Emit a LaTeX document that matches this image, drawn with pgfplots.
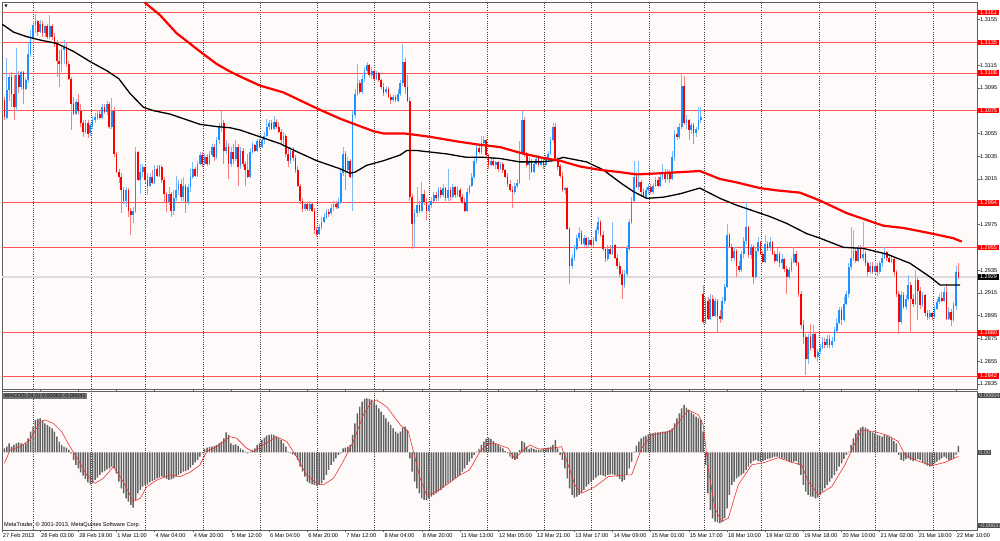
\documentclass[border=0pt]{standalone}
\usepackage{pgfplots}
\pgfplotsset{compat=1.18}
\usepackage{pgfplotstable}
\usepackage{fontspec}
\setmainfont{Liberation Sans}
\newfontfamily\dejavu{DejaVu Sans}
\definecolor{bull}{RGB}{30,144,255}
\definecolor{bullw}{RGB}{125,188,250}
\definecolor{bear}{RGB}{255,0,0}
\definecolor{bearw}{RGB}{250,125,125}
\definecolor{lvl}{RGB}{255,85,85}
\definecolor{bg}{RGB}{253,250,249}
\definecolor{frm}{RGB}{95,95,95}
\newcommand\tf{\fontsize{5.6}{6.4}\selectfont}

\pgfplotstableread{
o h l c
1.3084 1.3087 1.3067 1.3069
1.3069 1.3121 1.3068 1.3093
1.3093 1.3108 1.3084 1.3105
1.3105 1.3109 1.3078 1.3090
1.3090 1.3106 1.3067 1.3078
1.3078 1.3130 1.3075 1.3106
1.3106 1.3110 1.3091 1.3096
1.3096 1.3110 1.3093 1.3109
1.3109 1.3110 1.3081 1.3094
1.3094 1.3104 1.3093 1.3102
1.3102 1.3134 1.3099 1.3125
1.3125 1.3146 1.3122 1.3138
1.3138 1.3154 1.3134 1.3150
1.3150 1.3160 1.3143 1.3154
1.3154 1.3155 1.3141 1.3144
1.3144 1.3155 1.3143 1.3151
1.3151 1.3154 1.3140 1.3143
1.3143 1.3150 1.3140 1.3149
1.3149 1.3151 1.3138 1.3140
1.3140 1.3159 1.3138 1.3149
1.3149 1.3151 1.3137 1.3140
1.3140 1.3143 1.3131 1.3134
1.3134 1.3137 1.3105 1.3119
1.3119 1.3128 1.3096 1.3116
1.3116 1.3131 1.3109 1.3128
1.3128 1.3137 1.3116 1.3131
1.3131 1.3135 1.3113 1.3116
1.3116 1.3119 1.3102 1.3103
1.3103 1.3105 1.3058 1.3081
1.3081 1.3087 1.3071 1.3072
1.3072 1.3085 1.3071 1.3083
1.3083 1.3090 1.3072 1.3075
1.3075 1.3081 1.3061 1.3064
1.3064 1.3067 1.3052 1.3056
1.3056 1.3067 1.3055 1.3064
1.3064 1.3067 1.3051 1.3055
1.3055 1.3064 1.3053 1.3062
1.3062 1.3070 1.3059 1.3067
1.3067 1.3073 1.3064 1.3069
1.3069 1.3076 1.3067 1.3072
1.3072 1.3075 1.3068 1.3069
1.3069 1.3081 1.3068 1.3078
1.3078 1.3081 1.3072 1.3074
1.3074 1.3084 1.3071 1.3081
1.3081 1.3083 1.3059 1.3061
1.3061 1.3086 1.3059 1.3075
1.3075 1.3078 1.3034 1.3037
1.3037 1.3039 1.3020 1.3021
1.3021 1.3024 1.3012 1.3017
1.3017 1.3020 1.2985 1.3005
1.3005 1.3008 1.2993 1.2996
1.2996 1.3008 1.2990 1.3005
1.3005 1.3007 1.2982 1.2987
1.2987 1.2990 1.2966 1.2983
1.2983 1.2990 1.2976 1.2987
1.2987 1.3043 1.2985 1.3039
1.3039 1.3040 1.3013 1.3014
1.3014 1.3028 1.3002 1.3021
1.3021 1.3028 1.3017 1.3026
1.3026 1.3027 1.3012 1.3014
1.3014 1.3020 1.3001 1.3009
1.3009 1.3020 1.3008 1.3017
1.3017 1.3023 1.3011 1.3012
1.3012 1.3027 1.3011 1.3024
1.3024 1.3027 1.3017 1.3018
1.3018 1.3027 1.3017 1.3026
1.3026 1.3027 1.3012 1.3014
1.3014 1.3017 1.2995 1.3002
1.3002 1.3004 1.2986 1.2995
1.2995 1.3008 1.2992 1.3002
1.3002 1.3004 1.2982 1.2987
1.2987 1.3005 1.2983 1.2998
1.2998 1.3018 1.2996 1.3005
1.3005 1.3014 1.3001 1.3011
1.3011 1.3015 1.2996 1.2999
1.2999 1.3017 1.2996 1.3009
1.3009 1.3011 1.2985 1.2995
1.2995 1.3011 1.2992 1.3008
1.3008 1.3024 1.3004 1.3017
1.3017 1.3030 1.3015 1.3024
1.3024 1.3026 1.3017 1.3018
1.3018 1.3031 1.3017 1.3028
1.3028 1.3039 1.3027 1.3036
1.3036 1.3039 1.3026 1.3028
1.3028 1.3037 1.3027 1.3034
1.3034 1.3037 1.3026 1.3028
1.3028 1.3040 1.3027 1.3036
1.3036 1.3046 1.3034 1.3043
1.3043 1.3046 1.3031 1.3034
1.3034 1.3052 1.3033 1.3049
1.3049 1.3064 1.3046 1.3061
1.3061 1.3075 1.3056 1.3064
1.3064 1.3067 1.3028 1.3040
1.3040 1.3049 1.3037 1.3043
1.3043 1.3047 1.3015 1.3028
1.3028 1.3043 1.3026 1.3039
1.3039 1.3046 1.3028 1.3033
1.3033 1.3049 1.3031 1.3043
1.3043 1.3046 1.3009 1.3026
1.3026 1.3043 1.3024 1.3040
1.3040 1.3042 1.3026 1.3028
1.3028 1.3031 1.3009 1.3023
1.3023 1.3037 1.3016 1.3017
1.3017 1.3042 1.3016 1.3039
1.3039 1.3048 1.3037 1.3045
1.3045 1.3046 1.3039 1.3040
1.3040 1.3050 1.3039 1.3048
1.3048 1.3050 1.3042 1.3043
1.3043 1.3052 1.3042 1.3049
1.3049 1.3056 1.3046 1.3053
1.3053 1.3068 1.3052 1.3061
1.3061 1.3067 1.3058 1.3064
1.3064 1.3067 1.3058 1.3059
1.3059 1.3070 1.3058 1.3065
1.3065 1.3068 1.3059 1.3061
1.3061 1.3065 1.3055 1.3056
1.3056 1.3059 1.3046 1.3049
1.3049 1.3056 1.3046 1.3053
1.3053 1.3055 1.3034 1.3037
1.3037 1.3042 1.3026 1.3031
1.3031 1.3043 1.3028 1.3040
1.3040 1.3043 1.3031 1.3033
1.3033 1.3036 1.3020 1.3023
1.3023 1.3026 1.3008 1.3009
1.3009 1.3011 1.2993 1.2996
1.2996 1.2998 1.2986 1.2989
1.2989 1.2995 1.2987 1.2993
1.2993 1.2995 1.2987 1.2989
1.2989 1.2996 1.2987 1.2993
1.2993 1.2995 1.2986 1.2987
1.2987 1.2990 1.2967 1.2970
1.2970 1.2973 1.2964 1.2967
1.2967 1.2976 1.2966 1.2973
1.2973 1.2982 1.2970 1.2977
1.2977 1.2985 1.2976 1.2982
1.2982 1.2989 1.2980 1.2986
1.2986 1.2989 1.2982 1.2985
1.2985 1.2993 1.2983 1.2990
1.2990 1.2996 1.2987 1.2993
1.2993 1.2996 1.2989 1.2990
1.2990 1.2998 1.2989 1.2995
1.2995 1.3023 1.2993 1.3020
1.3020 1.3043 1.3018 1.3037
1.3037 1.3040 1.3005 1.3023
1.3023 1.3034 1.3021 1.3031
1.3031 1.3033 1.3016 1.3017
1.3017 1.3075 1.2987 1.3071
1.3071 1.3094 1.3069 1.3090
1.3090 1.3116 1.3088 1.3099
1.3099 1.3102 1.3090 1.3091
1.3091 1.3106 1.3090 1.3103
1.3103 1.3113 1.3100 1.3110
1.3110 1.3118 1.3108 1.3115
1.3115 1.3116 1.3105 1.3106
1.3106 1.3113 1.3103 1.3110
1.3110 1.3112 1.3102 1.3103
1.3103 1.3110 1.3102 1.3108
1.3108 1.3109 1.3100 1.3102
1.3102 1.3103 1.3094 1.3096
1.3096 1.3099 1.3088 1.3091
1.3091 1.3097 1.3090 1.3094
1.3094 1.3096 1.3086 1.3087
1.3087 1.3090 1.3081 1.3084
1.3084 1.3089 1.3083 1.3087
1.3087 1.3089 1.3083 1.3084
1.3084 1.3094 1.3083 1.3090
1.3090 1.3102 1.3088 1.3099
1.3099 1.3134 1.3097 1.3118
1.3118 1.3121 1.3090 1.3096
1.3096 1.3106 1.3083 1.3084
1.3084 1.3087 1.2996 1.2999
1.2999 1.3002 1.2954 1.2976
1.2976 1.2989 1.2955 1.2985
1.2985 1.3008 1.2982 1.2992
1.2992 1.2996 1.2985 1.2987
1.2987 1.3012 1.2986 1.3002
1.3002 1.3005 1.2992 1.2995
1.2995 1.2998 1.2979 1.2987
1.2987 1.2995 1.2985 1.2992
1.2992 1.2999 1.2990 1.2996
1.2996 1.3004 1.2995 1.3001
1.3001 1.3004 1.2996 1.2998
1.2998 1.3008 1.2996 1.3005
1.3005 1.3008 1.2998 1.3001
1.3001 1.3011 1.2999 1.3007
1.3007 1.3008 1.2996 1.2998
1.2998 1.3024 1.2996 1.3005
1.3005 1.3008 1.2996 1.2999
1.2999 1.3011 1.2998 1.3008
1.3008 1.3009 1.2998 1.3001
1.3001 1.3009 1.2999 1.3005
1.3005 1.3007 1.2996 1.2999
1.2999 1.3002 1.2993 1.2995
1.2995 1.2998 1.2986 1.2987
1.2987 1.3007 1.2986 1.3004
1.3004 1.3010 1.3002 1.3009
1.3009 1.3020 1.3008 1.3017
1.3017 1.3034 1.3015 1.3031
1.3031 1.3045 1.3028 1.3042
1.3042 1.3045 1.3037 1.3039
1.3039 1.3053 1.3037 1.3047
1.3047 1.3053 1.3045 1.3049
1.3049 1.3050 1.3034 1.3036
1.3036 1.3037 1.3024 1.3027
1.3027 1.3033 1.3026 1.3031
1.3031 1.3034 1.3026 1.3027
1.3027 1.3031 1.3024 1.3030
1.3030 1.3031 1.3021 1.3024
1.3024 1.3030 1.3023 1.3028
1.3028 1.3030 1.3020 1.3023
1.3023 1.3024 1.3016 1.3017
1.3017 1.3020 1.3008 1.3011
1.3011 1.3014 1.3004 1.3005
1.3005 1.3009 1.2990 1.3004
1.3004 1.3012 1.3002 1.3009
1.3009 1.3015 1.3007 1.3012
1.3012 1.3048 1.3011 1.3037
1.3037 1.3075 1.3036 1.3067
1.3067 1.3069 1.3034 1.3037
1.3037 1.3039 1.3026 1.3027
1.3027 1.3034 1.3014 1.3030
1.3030 1.3033 1.3020 1.3021
1.3021 1.3031 1.3020 1.3028
1.3028 1.3036 1.3027 1.3033
1.3033 1.3036 1.3026 1.3027
1.3027 1.3034 1.3026 1.3031
1.3031 1.3034 1.3024 1.3027
1.3027 1.3036 1.3026 1.3033
1.3033 1.3040 1.3031 1.3037
1.3037 1.3052 1.3036 1.3049
1.3049 1.3064 1.3048 1.3061
1.3061 1.3064 1.3030 1.3031
1.3031 1.3034 1.3023 1.3026
1.3026 1.3028 1.3016 1.3018
1.3018 1.3021 1.3004 1.3005
1.3005 1.3008 1.3002 1.3007
1.3007 1.3008 1.2970 1.2971
1.2971 1.2973 1.2923 1.2939
1.2939 1.2949 1.2936 1.2946
1.2946 1.2957 1.2943 1.2954
1.2954 1.2966 1.2952 1.2963
1.2963 1.2973 1.2961 1.2968
1.2968 1.2970 1.2957 1.2958
1.2958 1.2966 1.2955 1.2963
1.2963 1.2964 1.2955 1.2957
1.2957 1.2964 1.2955 1.2961
1.2961 1.2963 1.2955 1.2957
1.2957 1.2964 1.2955 1.2961
1.2961 1.2973 1.2960 1.2970
1.2970 1.2982 1.2967 1.2977
1.2977 1.2979 1.2964 1.2966
1.2966 1.2969 1.2952 1.2954
1.2954 1.2955 1.2942 1.2945
1.2945 1.2957 1.2943 1.2954
1.2954 1.2957 1.2948 1.2949
1.2949 1.2977 1.2948 1.2957
1.2957 1.2958 1.2945 1.2946
1.2946 1.2949 1.2936 1.2939
1.2939 1.2942 1.2929 1.2932
1.2932 1.2935 1.2910 1.2922
1.2922 1.2935 1.2919 1.2932
1.2932 1.2957 1.2930 1.2954
1.2954 1.2980 1.2952 1.2977
1.2977 1.2999 1.2976 1.2996
1.2996 1.3031 1.2995 1.3017
1.3017 1.3021 1.3007 1.3008
1.3008 1.3031 1.3005 1.3012
1.3012 1.3014 1.2999 1.3004
1.3004 1.3007 1.2998 1.2999
1.2999 1.3008 1.2998 1.3005
1.3005 1.3011 1.3002 1.3008
1.3008 1.3011 1.3002 1.3004
1.3004 1.3012 1.3002 1.3009
1.3009 1.3017 1.3008 1.3014
1.3014 1.3017 1.3008 1.3009
1.3009 1.3020 1.3008 1.3017
1.3017 1.3028 1.3014 1.3021
1.3021 1.3024 1.3012 1.3015
1.3015 1.3024 1.3014 1.3021
1.3021 1.3023 1.3012 1.3015
1.3015 1.3040 1.3014 1.3034
1.3034 1.3058 1.3031 1.3055
1.3055 1.3061 1.3049 1.3052
1.3052 1.3064 1.3050 1.3061
1.3061 1.3108 1.3059 1.3097
1.3097 1.3105 1.3062 1.3064
1.3064 1.3071 1.3059 1.3067
1.3067 1.3068 1.3049 1.3058
1.3058 1.3064 1.3055 1.3062
1.3062 1.3064 1.3046 1.3055
1.3055 1.3061 1.3052 1.3059
1.3059 1.3078 1.3058 1.3067
1.3067 1.3078 1.3064 1.3069
1.2914 1.2922 1.2888 1.2889
1.2889 1.2911 1.2888 1.2908
1.2908 1.2911 1.2891 1.2892
1.2892 1.2914 1.2891 1.2910
1.2910 1.2913 1.2894 1.2895
1.2895 1.2911 1.2894 1.2908
1.2908 1.2910 1.2881 1.2895
1.2895 1.2900 1.2889 1.2892
1.2892 1.2911 1.2891 1.2908
1.2908 1.2923 1.2905 1.2920
1.2920 1.2976 1.2919 1.2966
1.2966 1.2968 1.2954 1.2955
1.2955 1.2958 1.2943 1.2946
1.2946 1.2955 1.2943 1.2952
1.2952 1.2954 1.2929 1.2939
1.2939 1.2943 1.2933 1.2935
1.2935 1.2952 1.2933 1.2949
1.2949 1.2964 1.2946 1.2961
1.2961 1.2995 1.2958 1.2973
1.2973 1.2974 1.2946 1.2948
1.2948 1.2958 1.2945 1.2955
1.2955 1.2957 1.2923 1.2929
1.2929 1.2955 1.2927 1.2952
1.2952 1.2964 1.2951 1.2960
1.2960 1.2961 1.2948 1.2949
1.2949 1.2952 1.2941 1.2942
1.2942 1.2966 1.2941 1.2958
1.2958 1.2961 1.2952 1.2954
1.2954 1.2964 1.2952 1.2960
1.2960 1.2961 1.2948 1.2949
1.2949 1.2952 1.2941 1.2943
1.2943 1.2954 1.2942 1.2949
1.2949 1.2951 1.2938 1.2941
1.2941 1.2949 1.2936 1.2945
1.2945 1.2946 1.2933 1.2936
1.2936 1.2939 1.2914 1.2929
1.2929 1.2938 1.2927 1.2935
1.2935 1.2946 1.2933 1.2942
1.2942 1.2955 1.2941 1.2949
1.2949 1.2952 1.2939 1.2941
1.2941 1.2942 1.2911 1.2914
1.2914 1.2917 1.2883 1.2887
1.2887 1.2891 1.2870 1.2876
1.2876 1.2879 1.2843 1.2857
1.2857 1.2879 1.2853 1.2876
1.2876 1.2888 1.2864 1.2867
1.2867 1.2887 1.2866 1.2879
1.2879 1.2880 1.2857 1.2859
1.2859 1.2866 1.2854 1.2863
1.2863 1.2870 1.2861 1.2867
1.2867 1.2876 1.2866 1.2872
1.2872 1.2875 1.2867 1.2869
1.2869 1.2878 1.2867 1.2875
1.2875 1.2878 1.2867 1.2869
1.2869 1.2876 1.2867 1.2873
1.2873 1.2885 1.2872 1.2882
1.2882 1.2893 1.2881 1.2889
1.2889 1.2903 1.2888 1.2900
1.2900 1.2903 1.2887 1.2891
1.2891 1.2911 1.2889 1.2905
1.2905 1.2917 1.2904 1.2914
1.2914 1.2941 1.2911 1.2938
1.2938 1.2973 1.2935 1.2946
1.2946 1.2970 1.2943 1.2952
1.2952 1.2955 1.2941 1.2943
1.2943 1.2957 1.2942 1.2954
1.2954 1.2957 1.2945 1.2946
1.2946 1.2977 1.2943 1.2949
1.2949 1.2952 1.2939 1.2941
1.2941 1.2943 1.2930 1.2933
1.2933 1.2942 1.2932 1.2939
1.2939 1.2942 1.2932 1.2933
1.2933 1.2942 1.2932 1.2939
1.2939 1.2941 1.2930 1.2933
1.2933 1.2943 1.2932 1.2941
1.2941 1.2949 1.2938 1.2946
1.2946 1.2955 1.2945 1.2951
1.2951 1.2952 1.2943 1.2946
1.2946 1.2949 1.2941 1.2942
1.2942 1.2948 1.2941 1.2945
1.2945 1.2946 1.2930 1.2933
1.2933 1.2935 1.2911 1.2914
1.2914 1.2917 1.2879 1.2889
1.2889 1.2917 1.2888 1.2913
1.2913 1.2916 1.2901 1.2903
1.2903 1.2913 1.2900 1.2910
1.2910 1.2931 1.2908 1.2922
1.2922 1.2925 1.2880 1.2910
1.2910 1.2914 1.2903 1.2905
1.2905 1.2935 1.2904 1.2926
1.2926 1.2929 1.2891 1.2917
1.2917 1.2920 1.2901 1.2904
1.2904 1.2916 1.2903 1.2913
1.2913 1.2914 1.2895 1.2897
1.2897 1.2900 1.2891 1.2894
1.2894 1.2900 1.2892 1.2897
1.2897 1.2898 1.2891 1.2894
1.2894 1.2904 1.2892 1.2901
1.2901 1.2910 1.2900 1.2907
1.2907 1.2914 1.2905 1.2911
1.2911 1.2916 1.2907 1.2908
1.2908 1.2920 1.2907 1.2916
1.2916 1.2923 1.2891 1.2892
1.2892 1.2903 1.2891 1.2898
1.2898 1.2901 1.2886 1.2891
1.2891 1.2907 1.2889 1.2904
1.2904 1.2939 1.2900 1.2933
1.2933 1.2941 1.2927 1.2929
}\ohlc

\pgfplotstableread{
m
0.00040
0.00056
0.00089
0.00056
0.00073
0.00089
0.00099
0.00089
0.00079
0.00089
0.00139
0.00205
0.00254
0.00320
0.00330
0.00337
0.00310
0.00287
0.00271
0.00254
0.00238
0.00205
0.00155
0.00106
0.00073
0.00056
0.00046
0.00023
-0.00010
-0.00076
-0.00125
-0.00158
-0.00198
-0.00231
-0.00264
-0.00297
-0.00317
-0.00307
-0.00274
-0.00251
-0.00224
-0.00198
-0.00185
-0.00168
-0.00158
-0.00142
-0.00158
-0.00208
-0.00290
-0.00356
-0.00406
-0.00455
-0.00488
-0.00521
-0.00548
-0.00472
-0.00406
-0.00373
-0.00340
-0.00323
-0.00317
-0.00297
-0.00284
-0.00274
-0.00257
-0.00251
-0.00241
-0.00251
-0.00264
-0.00274
-0.00267
-0.00257
-0.00241
-0.00224
-0.00208
-0.00191
-0.00185
-0.00175
-0.00152
-0.00125
-0.00099
-0.00076
-0.00043
-0.00010
0.00033
0.00046
0.00053
0.00056
0.00063
0.00073
0.00089
0.00106
0.00139
0.00198
0.00172
0.00089
0.00073
0.00079
0.00063
0.00040
0.00023
0.00007
-0.00010
0.00007
0.00023
0.00040
0.00073
0.00089
0.00122
0.00145
0.00165
0.00172
0.00178
0.00172
0.00155
0.00139
0.00122
0.00089
0.00056
0.00007
-0.00010
-0.00020
-0.00033
-0.00076
-0.00142
-0.00191
-0.00241
-0.00290
-0.00307
-0.00317
-0.00323
-0.00330
-0.00323
-0.00307
-0.00274
-0.00224
-0.00175
-0.00125
-0.00092
-0.00059
-0.00026
-0.00010
0.00040
0.00046
0.00056
0.00073
0.00172
0.00287
0.00386
0.00452
0.00502
0.00528
0.00535
0.00528
0.00518
0.00495
0.00469
0.00436
0.00403
0.00370
0.00337
0.00304
0.00271
0.00238
0.00205
0.00188
0.00205
0.00244
0.00254
0.00221
-0.00059
-0.00191
-0.00290
-0.00356
-0.00406
-0.00455
-0.00472
-0.00472
-0.00455
-0.00439
-0.00422
-0.00406
-0.00389
-0.00373
-0.00350
-0.00323
-0.00307
-0.00290
-0.00274
-0.00257
-0.00241
-0.00224
-0.00191
-0.00158
-0.00125
-0.00092
-0.00059
-0.00026
0.00007
0.00033
0.00073
0.00106
0.00132
0.00145
0.00132
0.00112
0.00089
0.00073
0.00056
0.00040
0.00013
-0.00010
-0.00043
-0.00066
-0.00076
-0.00066
0.00023
0.00112
0.00099
0.00056
0.00033
0.00046
0.00033
0.00023
0.00023
0.00030
0.00033
0.00040
0.00046
0.00056
0.00073
0.00122
0.00040
-0.00026
-0.00076
-0.00158
-0.00257
-0.00356
-0.00422
-0.00449
-0.00439
-0.00422
-0.00396
-0.00373
-0.00340
-0.00317
-0.00290
-0.00274
-0.00251
-0.00231
-0.00224
-0.00231
-0.00241
-0.00224
-0.00218
-0.00218
-0.00224
-0.00241
-0.00264
-0.00290
-0.00274
-0.00224
-0.00158
-0.00092
0.00007
0.00066
0.00106
0.00139
0.00155
0.00165
0.00178
0.00188
0.00191
0.00198
0.00198
0.00201
0.00205
0.00205
0.00211
0.00221
0.00238
0.00287
0.00337
0.00386
0.00436
0.00469
0.00442
0.00419
0.00396
0.00376
0.00353
0.00337
0.00320
0.00205
-0.00125
-0.00406
-0.00571
-0.00653
-0.00686
-0.00693
-0.00703
-0.00686
-0.00653
-0.00554
-0.00422
-0.00323
-0.00290
-0.00257
-0.00241
-0.00224
-0.00208
-0.00175
-0.00142
-0.00109
-0.00086
-0.00076
-0.00086
-0.00092
-0.00086
-0.00076
-0.00066
-0.00059
-0.00053
-0.00043
-0.00043
-0.00053
-0.00059
-0.00066
-0.00076
-0.00092
-0.00099
-0.00092
-0.00086
-0.00125
-0.00224
-0.00323
-0.00389
-0.00422
-0.00439
-0.00439
-0.00455
-0.00449
-0.00422
-0.00389
-0.00356
-0.00323
-0.00290
-0.00257
-0.00224
-0.00185
-0.00142
-0.00109
-0.00066
-0.00026
0.00007
0.00073
0.00139
0.00188
0.00221
0.00244
0.00254
0.00244
0.00231
0.00211
0.00198
0.00188
0.00172
0.00165
0.00155
0.00172
0.00165
0.00155
0.00139
0.00112
0.00089
-0.00026
-0.00076
-0.00086
-0.00066
-0.00059
-0.00076
-0.00086
-0.00076
-0.00066
-0.00076
-0.00099
-0.00119
-0.00132
-0.00142
-0.00125
-0.00109
-0.00092
-0.00076
-0.00059
-0.00043
-0.00059
-0.00076
-0.00076
-0.00059
-0.00026
0.00063
}\macd

\begin{document}
\begin{tikzpicture}
\path[use as bounding box, fill=white] (0,0) rectangle (1000bp,541bp);

% ---------------- price panel ----------------
\begin{axis}[
  at={(2bp,152bp)}, anchor=south west,
  width=975bp, height=387bp, scale only axis,
  xmin=0, xmax=408.81, ymin=1.28306, ymax=1.31704,
  axis background/.style={fill=bg},
  axis line style={frm, line width=0.9bp},
  clip mode=individual,
  xtick={13,37.3,59.9,84.3,108.2,132.1,156,179,203.4,227.3,247,271.3,294.3,318.2,342.6,366.1,390.4},
  xticklabels={},
  x tick style={draw=none},
  xmajorgrids,
  major x grid style={black!75, line width=0.5bp, dash pattern=on 1bp off 1.2bp},
  ytick={1.2835,1.2855,1.2875,1.2895,1.2915,1.2935,1.2975,1.3015,1.3035,1.3055,1.3095,1.3115,1.3155},
  yticklabels={1.2835,1.2855,1.2875,1.2895,1.2915,1.2935,1.2975,1.3015,1.3035,1.3055,1.3095,1.3115,1.3155},
  ytick pos=right, yticklabel pos=right,
  y tick style={frm, line width=0.5bp},
  tick align=outside, major tick length=2.5bp,
  yticklabel style={font=\tf, anchor=west, inner sep=1bp, xshift=-0.5bp},
]
\pgfplotsinvokeforeach{1.3161,1.3135,1.3108,1.3075,1.2994,1.2955,1.2880,1.2842}{
  \addplot[lvl, line width=1bp, forget plot] coordinates {(0,#1) (408.81,#1)};
}
\addplot[black!14, line width=1.3bp, forget plot] coordinates {(0,1.2929) (408.81,1.2929)};

% wicks
\addplot[draw=none, mark=none, forget plot,
  error bars/.cd, y dir=both, y explicit, error mark=none,
  error bar style={draw=bullw, line width=0.7bp}]
  table[x expr=\coordindex+1,
        y expr={\thisrow{c}>=\thisrow{o} ? (\thisrow{h}+\thisrow{l})/2 : nan},
        y error expr={(\thisrow{h}-\thisrow{l})/2}] {\ohlc};
\addplot[draw=none, mark=none, forget plot,
  error bars/.cd, y dir=both, y explicit, error mark=none,
  error bar style={draw=bearw, line width=0.7bp}]
  table[x expr=\coordindex+1,
        y expr={\thisrow{c}<\thisrow{o} ? (\thisrow{h}+\thisrow{l})/2 : nan},
        y error expr={(\thisrow{h}-\thisrow{l})/2}] {\ohlc};
% bodies
\addplot[draw=none, mark=none, forget plot,
  error bars/.cd, y dir=both, y explicit, error mark=none,
  error bar style={draw=bull, line width=1.7bp}]
  table[x expr=\coordindex+1,
        y expr={\thisrow{c}>=\thisrow{o} ? (\thisrow{o}+\thisrow{c})/2 : nan},
        y error expr={max(abs(\thisrow{c}-\thisrow{o})/2,0.00003)}] {\ohlc};
\addplot[draw=none, mark=none, forget plot,
  error bars/.cd, y dir=both, y explicit, error mark=none,
  error bar style={draw=bear, line width=1.7bp}]
  table[x expr=\coordindex+1,
        y expr={\thisrow{c}<\thisrow{o} ? (\thisrow{o}+\thisrow{c})/2 : nan},
        y error expr={max(abs(\thisrow{c}-\thisrow{o})/2,0.00003)}] {\ohlc};

% moving averages
\addplot[black, line width=1.3bp, forget plot] coordinates {
(0,1.3151) (4.8,1.3144) (10.3,1.3140) (16,1.3137) (23,1.3134) (30,1.3127) (37,1.3118)
(44,1.3110) (49,1.3103) (53.7,1.3090) (59.3,1.3078) (63.5,1.3075) (70.4,1.3072) (76,1.3068)
(83,1.3063) (90,1.3061) (95.6,1.3060) (99.8,1.3058) (104,1.3055) (108.2,1.3052) (116.6,1.3046)
(123.6,1.3039) (132,1.3031) (141.7,1.3024) (145.9,1.3020) (148,1.3021) (152.9,1.3027)
(159.9,1.3031) (166.9,1.3036) (169.7,1.3040) (173.9,1.3040) (186.5,1.3037) (194.8,1.3034)
(202,1.3034) (208.8,1.3033) (217,1.3030) (225.6,1.3030) (231,1.3031) (235.3,1.3034)
(245.1,1.3030) (252.1,1.3023) (259.1,1.3012) (264.7,1.3004) (270.3,1.2998) (277.3,1.2999)
(284.3,1.3002) (292.6,1.3007) (295.4,1.3004) (301,1.2998) (308,1.2992) (315,1.2987)
(322,1.2982) (329,1.2976) (337.4,1.2967) (343,1.2963) (352.8,1.2955) (361.2,1.2954)
(371,1.2949) (380.7,1.2941) (389.1,1.2929) (393.3,1.2922) (401.7,1.2922)};
\addplot[red, line width=2.2bp, forget plot] coordinates {
(59.8,1.3170) (66.2,1.3159) (73.2,1.3143) (83,1.3127) (90,1.3116) (95,1.3110) (99.8,1.3105)
(108.2,1.3097) (118,1.3091) (125,1.3084) (132,1.3077) (141.7,1.3068) (148,1.3063)
(155.7,1.3057) (159.9,1.3055) (168.3,1.3055) (172.5,1.3054) (179.5,1.3052) (190.7,1.3048)
(200.4,1.3045) (208.8,1.3043) (217.2,1.3038) (225.6,1.3034) (234,1.3031) (242.3,1.3026)
(250.7,1.3023) (259.1,1.3021) (266.1,1.3019) (275.9,1.3020) (284.3,1.3021) (292.6,1.3022)
(301,1.3015) (308,1.3012) (317.8,1.3007) (324.8,1.3005) (334.6,1.3003) (343,1.2996)
(354.2,1.2985) (362.5,1.2979) (369.5,1.2974) (377.9,1.2972) (387.7,1.2968) (398.9,1.2963)
(402.4,1.2960)};

% level labels
\pgfplotsinvokeforeach{1.3161,1.3135,1.3108,1.3075,1.2994,1.2955,1.2880,1.2842}{
  \node[anchor=west, fill=red, text=white, font=\tf, inner xsep=1.8bp, inner ysep=0.8bp,
        xshift=1bp] at (axis cs:408.81,#1) {#1};
}
\node[anchor=west, fill=black, text=white, font=\tf, inner xsep=1.8bp, inner ysep=0.8bp,
      xshift=1bp] at (axis cs:408.81,1.2929) {1.2929};
\node[anchor=north west, inner sep=0pt, xshift=2.5bp, yshift=-2.5bp]
  at (rel axis cs:0,1) {\dejavu\fontsize{4}{4}\selectfont ▼};
\end{axis}

% ---------------- MACD panel ----------------
\begin{axis}[
  at={(2bp,11bp)}, anchor=south west,
  width=975bp, height=139bp, scale only axis,
  xmin=0, xmax=408.81, ymin=-0.00769, ymax=0.00607,
  axis background/.style={fill=bg},
  axis line style={frm, line width=0.9bp},
  clip mode=individual,
  xtick={13,37.3,59.9,84.3,108.2,132.1,156,179,203.4,227.3,247,271.3,294.3,318.2,342.6,366.1,390.4},
  xticklabels={},
  x tick style={draw=none},
  xmajorgrids,
  major x grid style={black!75, line width=0.5bp, dash pattern=on 1bp off 1.2bp},
  ytick=\empty,
  tick align=outside, major tick length=2.5bp,
  extra x ticks={0,16,32,48,64,80,96,112,128,144,160,176,192,208,224,240,256,272,288,304,320,336,352,368,384,400},
  extra x tick labels={27 Feb 2013,28 Feb 03:00,28 Feb 19:00,1 Mar 11:00,4 Mar 04:00,4 Mar 20:00,5 Mar 12:00,6 Mar 04:00,6 Mar 20:00,7 Mar 12:00,8 Mar 04:00,8 Mar 20:00,11 Mar 13:00,12 Mar 05:00,12 Mar 21:00,13 Mar 17:00,14 Mar 09:00,15 Mar 01:00,15 Mar 17:00,18 Mar 10:00,19 Mar 02:00,19 Mar 18:00,20 Mar 10:00,21 Mar 02:00,21 Mar 18:00,22 Mar 10:00},
  extra x tick style={grid=none, x tick style={draw=frm, line width=0.5bp},
     xticklabel style={anchor=north west, font=\tf, inner sep=0pt, xshift=0.8bp, yshift=-1bp}},
]
\addplot[ybar, bar width=0.62, fill=black!62, draw=none, forget plot]
  table[x expr=\coordindex+1, y=m] {\macd};
\addplot[color={rgb,255:red,235;green,50;blue,50}, line width=0.6bp, forget plot] coordinates {
(1,-0.00109) (3.4,0.00023) (7.5,0.00056) (11.7,0.00122) (16,0.00304) (18,0.00320) (21.5,0.00287)
(25,0.00205) (28.5,0.00056) (32,-0.00076) (35.5,-0.00224) (39,-0.00307) (42.5,-0.00257)
(46.7,-0.00142) (50,-0.00257) (53,-0.00389) (55,-0.00488) (58,-0.00455) (60.7,-0.00340)
(65,-0.00274) (70.4,-0.00224) (74.6,-0.00241) (78.8,-0.00198) (83,-0.00125) (85.8,0.00007)
(90,0.00056) (95.6,0.00155) (98.4,0.00139) (102.6,0.00040) (105.4,0.00007) (109.6,0.00073)
(115,0.00155) (119.4,0.00106) (123.5,-0.00043) (127.7,-0.00224) (132,-0.00307) (134.7,-0.00323)
(139,-0.00257) (143,-0.00092) (147.3,0.00106) (151.5,0.00370) (155,0.00502) (157,0.00518)
(161.3,0.00452) (167,0.00271) (170.4,0.00205) (172.5,0.00007) (175.3,-0.00257) (178,-0.00422)
(180.8,-0.00406) (186.4,-0.00323) (192,-0.00224) (196,-0.00175) (200.4,0.00007) (204,0.00089)
(206.7,0.00089) (212.3,0.00040) (215,-0.00066) (217.9,0.00007) (221.4,0.00073) (224.9,0.00033)
(230.5,0.00040) (234.6,0.00056) (237.4,-0.00125) (240.2,-0.00323) (243,-0.00406) (248.6,-0.00340)
(254.2,-0.00241) (261.2,-0.00224) (264,-0.00224) (266.1,-0.00092) (268.2,0.00040) (272.4,0.00172)
(280.8,0.00211) (285,0.00337) (287.8,0.00419) (292,0.00370) (294,0.00271) (296.1,-0.00158)
(298.9,-0.00554) (301.7,-0.00686) (304.5,-0.00653) (308.7,-0.00323) (314.3,-0.00125)
(319.9,-0.00099) (325.5,-0.00053) (331.1,-0.00099) (335.3,-0.00125) (338.1,-0.00290)
(342.3,-0.00422) (347.9,-0.00340) (353.4,-0.00125) (357.6,0.00089) (360.4,0.00221) (366,0.00205)
(371.6,0.00165) (375.8,0.00106) (378.6,-0.00026) (382.8,-0.00076) (389.8,-0.00132)
(395.4,-0.00099) (401,-0.00041)};

\node[anchor=north west, fill=black!55, text=black!90, font=\tf, inner xsep=1.5bp, inner ysep=0.7bp,
      xshift=1bp, yshift=-1.5bp] at (rel axis cs:0,1) {MACD(5,34,5) 0.00063 -0.00041};
\node[anchor=south west, font=\tf, inner sep=0pt, xshift=2bp, yshift=2bp]
  at (rel axis cs:0,0) {MetaTrader, © 2001-2013, MetaQuotes Software Corp.};
\node[anchor=north west, fill=black!70, text=black!20, font=\tf, inner xsep=1.2bp, inner ysep=0.7bp,
      xshift=1bp, yshift=-1.5bp] at (rel axis cs:1,1) {0.00604};
\node[anchor=west, fill=black!70, text=black!20, font=\tf, inner xsep=1.2bp, inner ysep=0.7bp,
      xshift=1bp] at (axis cs:408.81,0) {0.00};
\node[anchor=south west, fill=black!70, text=black!20, font=\tf, inner xsep=1.2bp, inner ysep=0.7bp,
      xshift=1bp, yshift=1.5bp] at (rel axis cs:1,0) {-0.00637};
\end{axis}
\end{tikzpicture}
\end{document}
